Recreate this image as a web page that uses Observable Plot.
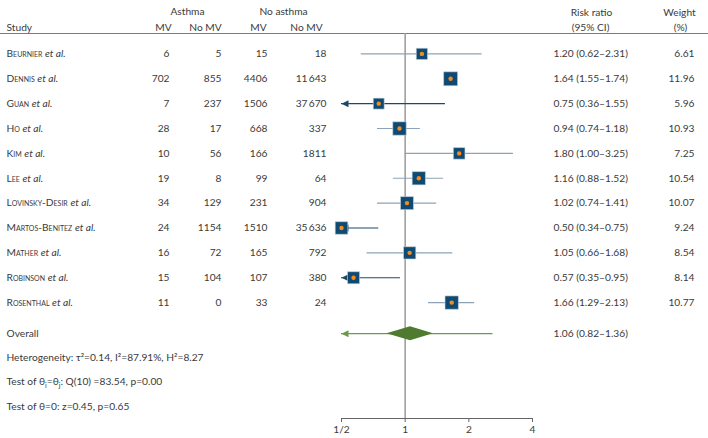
<!DOCTYPE html>
<html><head><meta charset="utf-8">
<script src="https://cdn.jsdelivr.net/npm/d3@7"></script>
<script src="https://cdn.jsdelivr.net/npm/@observablehq/plot@0.6"></script>
<style>body{margin:0;background:#fff} svg{display:block}</style>
</head><body><div id="chart"></div>
<script>
// ---- data ----
const studies = ["Beurnier","Dennis","Guan","Ho","Kim","Lee","Lovinsky-Desir","Martos-Benitez","Mather","Robinson","Rosenthal"];
const asthmaMV = [6,702,7,28,10,19,34,24,16,15,11];
const asthmaNoMV = [5,855,237,17,56,8,129,1154,72,104,0];
const noAsthmaMV = [15,4406,1506,668,166,99,231,1510,165,107,33];
const noAsthmaNoMV = [18,11643,37670,337,1811,64,904,35636,792,380,24];
const riskRatio = [1.20,1.64,0.75,0.94,1.80,1.16,1.02,0.50,1.05,0.57,1.66];
const ciLow = [0.62,1.55,0.36,0.74,1.00,0.88,0.74,0.34,0.66,0.35,1.29];
const ciHigh = [2.31,1.74,1.55,1.18,3.25,1.52,1.41,0.75,1.68,0.95,2.13];
const weights = [6.61,11.96,5.96,10.93,7.25,10.54,10.07,9.24,8.54,8.14,10.77];
const overallLabel = "Overall";
const overallRR = 1.06, overallLow = 0.82, overallHigh = 1.36;
const predLow = 0.42, predHigh = 2.6;
const statsLines = [
  "Heterogeneity: τ²=0.14, I²=87.91%, H²=8.27",
  "Test of θ_i=θ_j: Q(10) =83.54, p=0.00",
  "Test of θ=0: z=0.45, p=0.65"
];
const xTicks = [0.5, 1, 2, 4];
const xTickLabels = ["1/2", "1", "2", "4"];
const headerGroups = ["Asthma", "No asthma"];
const headerCols = ["MV", "No MV", "MV", "No MV"];

// ---- layout / style ----
const W = 708, H = 438;
const navy = "#0f4a72", orange = "#f58a1f", ciLight = "#8ea4b6", ciDark = "#1f4868";
const green = "#4f7b2e", greenLine = "#6b9a4c", ink = "#3a3a3a";
const xMin = xTicks[0], xMax = xTicks[xTicks.length - 1];
const rowOverall = 11.25, rowStats = [12.22, 13.2, 14.18];

const fmtN = n => n >= 10000 ? d3.format(",")(n).replace(",", "\u2009") : String(n);
const fmtRR = (r, l, h) => `${r.toFixed(2)} (${l.toFixed(2)}–${h.toFixed(2)})`;

const rows = studies.map((s, i) => ({
  i, study: s + " et al.",
  amv: fmtN(asthmaMV[i]), anomv: fmtN(asthmaNoMV[i]),
  nmv: fmtN(noAsthmaMV[i]), nnomv: fmtN(noAsthmaNoMV[i]),
  rr: riskRatio[i], lo: ciLow[i], hi: ciHigh[i], w: weights[i],
  rrText: fmtRR(riskRatio[i], ciLow[i], ciHigh[i]), wText: weights[i].toFixed(2)
}));
const clipped = rows.filter(d => d.lo < xMin);
const unclipped = rows.filter(d => d.lo >= xMin);

const leftTri = {draw(ctx) { ctx.moveTo(0, 0); ctx.lineTo(7, -3.5); ctx.lineTo(7, 3.5); ctx.closePath(); }};

const diamond = [
  {x: overallLow, y1: rowOverall, y2: rowOverall},
  {x: overallRR, y1: rowOverall - 0.28, y2: rowOverall + 0.28},
  {x: overallHigh, y1: rowOverall, y2: rowOverall}
];
const overallRow = [{y: rowOverall, lo: predLow, hi: predHigh}];

const colText = (key, dx, anchor, extra = {}) =>
  Plot.text(rows, {y: "i", text: key, frameAnchor: "left", dx, textAnchor: anchor, fill: ink, ...extra});
const head = (txt, dx, dy, anchor = "middle") =>
  Plot.text([txt], {frameAnchor: "top-left", dx, dy, textAnchor: anchor, fill: ink});

const chart = Plot.plot({
  width: W, height: H,
  marginLeft: 0, marginRight: 0, marginTop: 33, marginBottom: 20,
  style: {fontFamily: "Lato, sans-serif", fontSize: "10.2px", color: ink, background: "#fff"},
  x: {type: "log", base: 2, domain: [xMin, xMax], range: [341, 532]},
  y: {domain: [-0.82, 14.66], range: [33, 418], axis: null},
  r: {type: "linear", domain: [0, 12], range: [4.5, 7.9]},
  marks: [
    Plot.frame({anchor: "top", stroke: "#7a7a7a"}),
    Plot.ruleX([1], {stroke: "#a0a0a0", strokeWidth: 1.6}),
    Plot.ruleY([14.66], {x1: xMin, x2: xMax, stroke: "#666"}),
    Plot.axisX(xTicks, {anchor: "bottom", tickSize: 4, tickPadding: 3, stroke: "#666", fill: ink,
      tickFormat: d => xTickLabels[xTicks.indexOf(d)]}),
    // headers
    head(headerGroups[0], 187, -26), head(headerGroups[1], 283, -26),
    head("Study", 6, -10, "start"),
    head(headerCols[0], 163, -10), head(headerCols[1], 205, -10),
    head(headerCols[2], 258, -10), head(headerCols[3], 306, -10),
    head("Risk ratio", 591, -25), head("(95% CI)", 590, -10),
    head("Weight", 679, -25), head("(%)", 680, -10),
    // table
    colText("study", 6, "start"),
    colText("amv", 169, "end"), colText("anomv", 221, "end"),
    colText("nmv", 267, "end"), colText("nnomv", 326, "end"),
    colText("rrText", 553, "start"), colText("wText", 694, "end"),
    Plot.text([overallLabel], {y: () => rowOverall, frameAnchor: "left", dx: 6, textAnchor: "start", fill: ink}),
    Plot.text([fmtRR(overallRR, overallLow, overallHigh)], {y: () => rowOverall, frameAnchor: "left", dx: 553, textAnchor: "start", fill: ink}),
    Plot.text(statsLines, {y: (d, i) => rowStats[i], text: d => d, frameAnchor: "left", dx: 6, textAnchor: "start", fill: ink}),
    // CIs
    Plot.ruleY(unclipped, {y: "i", x1: "lo", x2: d => Math.min(d.hi, xMax), stroke: ciLight, strokeWidth: 1.2}),
    Plot.ruleY(clipped, {y: "i", x1: xMin, x2: d => Math.min(d.hi, xMax), stroke: ciDark, strokeWidth: 1.2}),
    Plot.dot(clipped, {y: "i", x: () => xMin, symbol: leftTri, fill: ciDark, stroke: null}),
    // overall
    Plot.ruleY(overallRow, {y: "y", x1: xMin, x2: "hi", stroke: greenLine, strokeWidth: 1.2}),
    Plot.dot(overallRow, {y: "y", x: () => xMin, symbol: leftTri, fill: greenLine, stroke: null}),
    Plot.areaY(diamond, {x: "x", y1: "y1", y2: "y2", fill: green}),
    // squares
    Plot.dot(rows, {y: "i", x: "rr", r: "w", symbol: "square", fill: navy, stroke: "#cfd9e2", strokeWidth: 0.6}),
    Plot.dot(rows, {y: "i", x: "rr", r: 2.2, fill: orange, stroke: null})
  ]
});

// real small caps / italics / subscripts
d3.select(chart).selectAll("text").each(function() {
  const t = this.textContent;
  const sel = d3.select(this);
  const m = /^(.+) et al\.$/.exec(t);
  if (m && !this.querySelector("tspan")) {
    sel.text(null);
    sel.append("tspan").style("font-variant", "small-caps").text(m[1]);
    sel.append("tspan").text(" ");
    sel.append("tspan").style("font-style", "italic").text("et al.");
  } else if (t.includes("_") && !this.querySelector("tspan")) {
    const parts = t.split(/_(\w)/);
    sel.text(null);
    parts.forEach((p, k) => {
      if (k % 2 === 1) sel.append("tspan").attr("dy", 3).attr("font-size", 7).text(p);
      else sel.append("tspan").attr("dy", k === 0 ? null : -3).text(p);
    });
  }
});
document.getElementById("chart").append(chart);
</script></body></html>
